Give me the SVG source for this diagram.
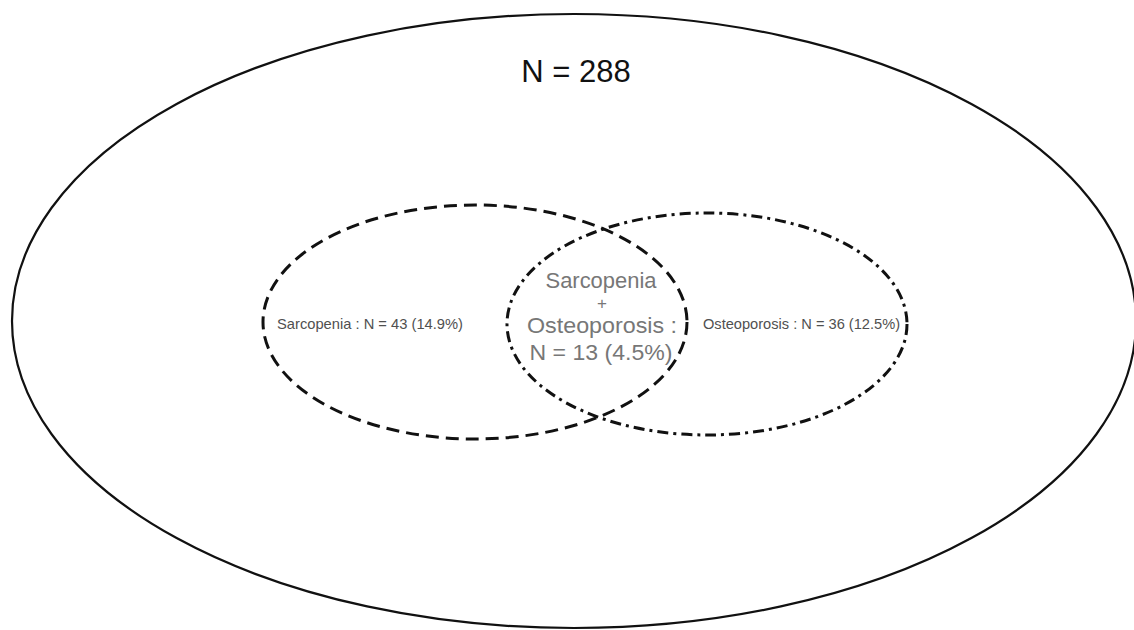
<svg xmlns="http://www.w3.org/2000/svg" width="1134" height="630" viewBox="0 0 1134 630">
  <style>
    .outer { fill: none; stroke: #111; stroke-width: 2.2; }
    .sarc { fill: none; stroke: #111; stroke-width: 3; stroke-dasharray: 13 7; }
    .osteo { fill: none; stroke: #111; stroke-width: 3; stroke-dasharray: 11 5 3 5; }
    .title { font-family: "Liberation Sans", Arial, sans-serif; font-size: 31px; fill: #111; text-anchor: middle; }
    .small { font-family: "Liberation Sans", Arial, sans-serif; font-size: 14.6px; fill: #505050; }
    .mid { font-family: "Liberation Sans", Arial, sans-serif; font-size: 22px; fill: #777; text-anchor: middle; }
    .plus { font-family: "Liberation Sans", Arial, sans-serif; font-size: 17px; fill: #777; text-anchor: middle; }
  </style>
  <rect width="1134" height="630" fill="#fff"/>
  <g id="total">
    <ellipse class="outer" cx="574" cy="321" rx="562" ry="307"/>
    <text class="title" x="576" y="82">N = 288</text>
  </g>
  <g id="sarcopenia">
    <ellipse class="sarc" cx="475" cy="322" rx="212" ry="117"/>
    <text class="small" x="277" y="329" textLength="186" lengthAdjust="spacingAndGlyphs">Sarcopenia : N = 43 (14.9%)</text>
  </g>
  <g id="osteoporosis">
    <ellipse class="osteo" cx="707" cy="324" rx="200" ry="111"/>
    <text class="small" x="703" y="329" textLength="197" lengthAdjust="spacingAndGlyphs">Osteoporosis : N = 36 (12.5%)</text>
  </g>
  <g id="overlap">
    <text class="mid" x="601" y="288" textLength="111" lengthAdjust="spacingAndGlyphs">Sarcopenia</text>
    <text class="plus" x="602" y="309">+</text>
    <text class="mid" x="602" y="333" textLength="150" lengthAdjust="spacingAndGlyphs">Osteoporosis :</text>
    <text class="mid" x="601" y="360" textLength="143" lengthAdjust="spacingAndGlyphs">N = 13 (4.5%)</text>
  </g>
  <g id="connectors"></g>
</svg>
